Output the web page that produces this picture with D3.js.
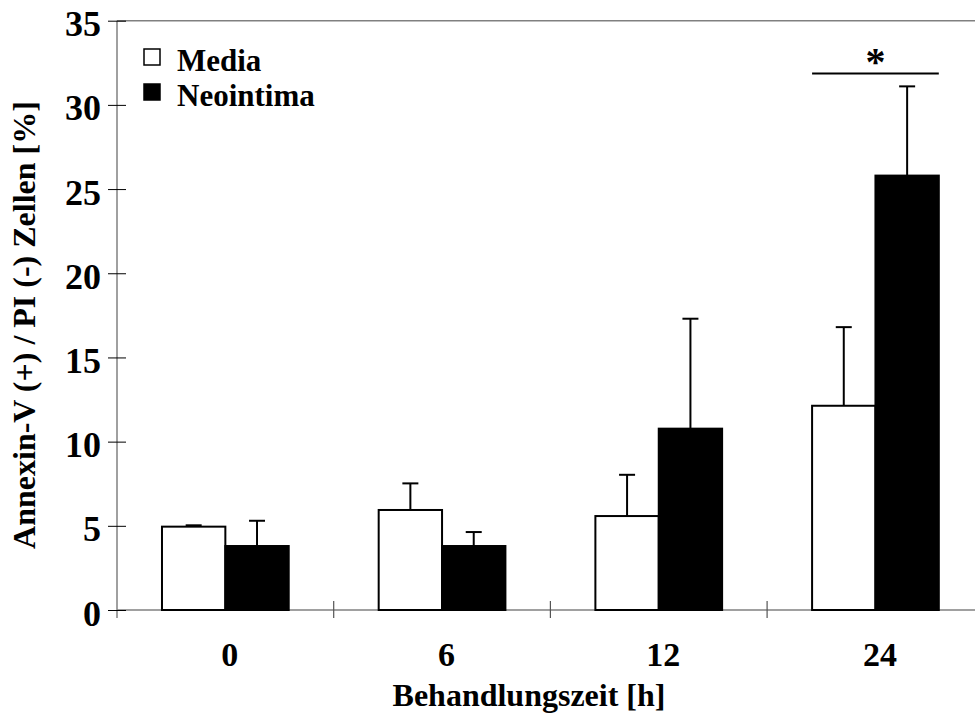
<!DOCTYPE html>
<html lang="de">
<head>
<meta charset="UTF-8">
<title>Annexin-V / PI</title>
<script src="https://d3js.org/d3.v7.min.js"></script>
<style>
    body { margin: 0; background: #fff; }
    svg { display: block; }
    text { font-family: "Liberation Serif", "Times New Roman", serif; font-weight: bold; fill: #000; }
</style>
</head>
<body>
<svg></svg>
<script>
    const categories = ["0", "6", "12", "24"];
    const series = ["Media", "Neointima"];
    const mediaValues = [4.95, 5.94, 5.58, 12.13];
    const mediaErrors = [0.08, 1.58, 2.45, 4.67];
    const neoValues = [3.8, 3.8, 10.77, 25.8];
    const neoErrors = [1.5, 0.83, 6.53, 5.3];
    const yTicks = [0, 5, 10, 15, 20, 25, 30, 35];
    // significance marker over the 24 h group
    const sigCategory = "24";
    const sigLevel = 31.87;

    const width = 975, height = 720;
    const plotLeft = 117, plotTop = 20.7, plotBottom = 610;

    const svg = d3.select("svg").attr("width", width).attr("height", height);

    const x = d3.scaleBand().domain(categories).range([plotLeft, plotLeft + 4 * 216.7]);
    const inner = d3.scaleBand().domain(series).range([0, x.bandwidth()]).paddingInner(0).paddingOuter(0.71);
    const y = d3.scaleLinear().domain([0, 35]).range([plotBottom, plotTop]);

    const rows = categories.map((c, i) => ({
        cat: c,
        bars: [
            { s: "Media", v: mediaValues[i], e: mediaErrors[i], fill: "#fff" },
            { s: "Neointima", v: neoValues[i], e: neoErrors[i], fill: "#000" }
        ]
    }));

    // frame: top line
    svg.append("line")
        .attr("x1", plotLeft).attr("x2", width)
        .attr("y1", plotTop).attr("y2", plotTop)
        .attr("stroke", "#808080").attr("stroke-width", 1.5);

    // x axis line
    svg.append("line")
        .attr("x1", plotLeft).attr("x2", width)
        .attr("y1", plotBottom).attr("y2", plotBottom)
        .attr("stroke", "#808080").attr("stroke-width", 1.5);

    // y axis
    const yAxis = svg.append("g")
        .attr("transform", `translate(${plotLeft},0)`)
        .call(d3.axisLeft(y).tickValues(yTicks).tickSize(9).tickPadding(0).tickFormat(d3.format("d")));
    yAxis.select(".domain").attr("stroke", "#808080").attr("stroke-width", 1.5)
        .attr("d", `M0,${plotTop}V${plotBottom + 8}`);
    yAxis.selectAll(".tick line").attr("stroke", "#000").attr("stroke-width", 1).attr("x2", 9).attr("x1", -9);
    yAxis.selectAll(".tick text")
        .attr("x", -16).attr("dy", null).attr("y", 15)
        .attr("font-size", 36).attr("font-family", null);

    // x ticks at band boundaries
    const bounds = categories.map(c => x(c)).slice(1).concat([x(categories[3]) + x.step()]);
    svg.append("g").selectAll("line").data(bounds.filter(b => b < width)).join("line")
        .attr("x1", d => d).attr("x2", d => d)
        .attr("y1", plotBottom - 9).attr("y2", plotBottom + 8)
        .attr("stroke", "#555").attr("stroke-width", 1.2);

    // x labels
    svg.append("g").selectAll("text").data(categories).join("text")
        .attr("x", d => x(d) + x.bandwidth() / 2 + 4.5)
        .attr("y", 666)
        .attr("text-anchor", "middle")
        .attr("font-size", 34)
        .text(d => d);

    // bars
    const groups = svg.append("g").selectAll("g").data(rows).join("g")
        .attr("transform", d => `translate(${x(d.cat)},0)`);

    groups.selectAll("line.err").data(d => d.bars).join("line")
        .attr("class", "err")
        .attr("x1", d => inner(d.s) + inner.bandwidth() / 2)
        .attr("x2", d => inner(d.s) + inner.bandwidth() / 2)
        .attr("y1", d => y(d.v)).attr("y2", d => y(d.v + d.e))
        .attr("stroke", "#000").attr("stroke-width", 2);
    groups.selectAll("line.cap").data(d => d.bars).join("line")
        .attr("class", "cap")
        .attr("x1", d => inner(d.s) + inner.bandwidth() / 2 - 8)
        .attr("x2", d => inner(d.s) + inner.bandwidth() / 2 + 8)
        .attr("y1", d => y(d.v + d.e)).attr("y2", d => y(d.v + d.e))
        .attr("stroke", "#000").attr("stroke-width", 2);

    groups.selectAll("rect").data(d => d.bars).join("rect")
        .attr("x", d => inner(d.s))
        .attr("y", d => y(d.v))
        .attr("width", inner.bandwidth())
        .attr("height", d => y(0) - y(d.v))
        .attr("fill", d => d.fill)
        .attr("stroke", "#000").attr("stroke-width", 2);

    // significance line + star
    const sx0 = x(sigCategory) + inner("Media");
    const sx1 = x(sigCategory) + inner("Neointima") + inner.bandwidth();
    svg.append("line")
        .attr("x1", sx0).attr("x2", sx1)
        .attr("y1", y(sigLevel)).attr("y2", y(sigLevel))
        .attr("stroke", "#000").attr("stroke-width", 2);
    svg.append("text")
        .attr("x", (sx0 + sx1) / 2).attr("y", y(sigLevel) + 2)
        .attr("text-anchor", "middle")
        .attr("font-size", 40)
        .text("*");

    // legend
    const legend = svg.append("g").selectAll("g").data(series).join("g")
        .attr("transform", (d, i) => `translate(144,${49 + i * 35})`);
    legend.append("rect")
        .attr("width", 16).attr("height", 16)
        .attr("fill", (d, i) => i === 0 ? "#fff" : "#000")
        .attr("stroke", "#000").attr("stroke-width", 1.5);
    legend.append("text")
        .attr("x", 33).attr("y", 22)
        .attr("font-size", 31)
        .text(d => d);

    // axis titles
    svg.append("text")
        .attr("x", 529).attr("y", 706)
        .attr("text-anchor", "middle")
        .attr("font-size", 32)
        .text("Behandlungszeit [h]");
    svg.append("text")
        .attr("transform", "translate(35,325) rotate(-90)")
        .attr("text-anchor", "middle")
        .attr("font-size", 32)
        .text("Annexin-V (+) / PI (-) Zellen [%]");
</script>
</body>
</html>
